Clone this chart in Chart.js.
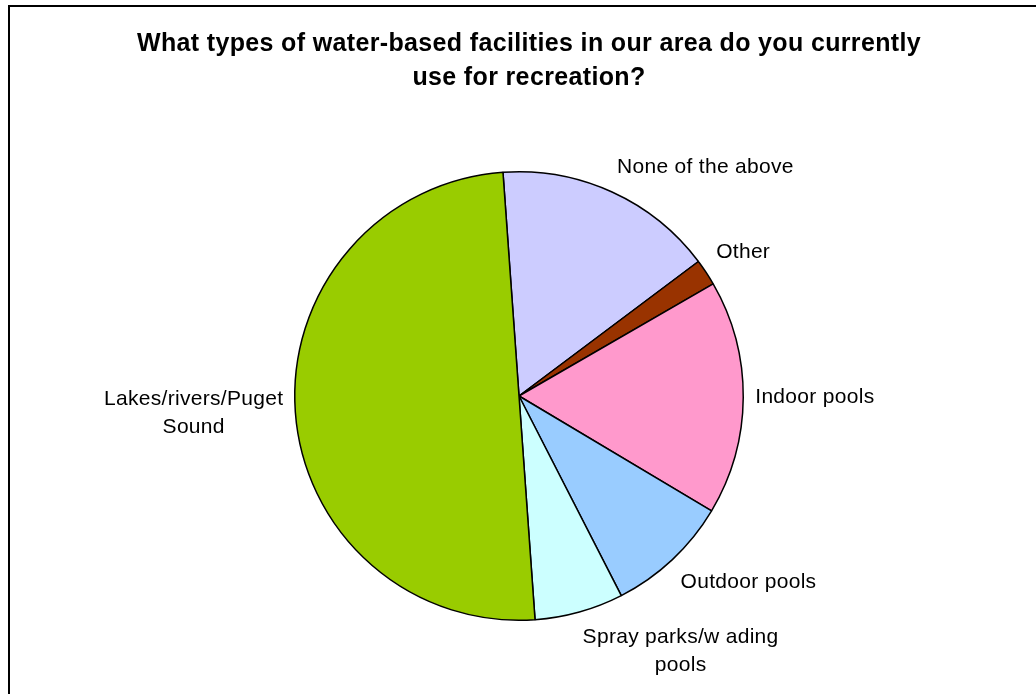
<!DOCTYPE html>
<html>
<head>
<meta charset="utf-8">
<script src="https://cdn.jsdelivr.net/npm/chart.js@4"></script>
<style>
    html, body { margin: 0; padding: 0; background: #fff; }
    #wrap { position: absolute; left: 0; top: 0; width: 1036px; height: 694px; }
    #frame { position: absolute; left: 8px; top: 5px; width: 1100px; height: 800px; border-left: 2px solid #000; border-top: 2px solid #000; }
</style>
</head>
<body>
<div id="frame"></div>
<div id="wrap"><canvas id="pieChart" width="1036" height="694"></canvas></div>
<script>
const categories = ['None of the above', 'Other', 'Indoor pools', 'Outdoor pools', 'Spray parks/w ading pools', 'Lakes/rivers/Puget Sound'];
// label text as it wraps in the picture
const labelLines = [['None of the above'], ['Other'], ['Indoor pools'], ['Outdoor pools'], ['Spray parks/w ading', 'pools'], ['Lakes/rivers/Puget', 'Sound']];
const shares = [15.9, 1.9, 16.9, 8.9, 6.4, 50.0];
const colors = ['#CCCCFF', '#993300', '#FF99CC', '#99CCFF', '#CCFFFF', '#99CC00'];
const titleLines = ['What types of water-based facilities in our area do you currently', 'use for recreation?'];

// title across the whole canvas, not just the plot box
const wideTitle = {
    id: 'wideTitle',
    afterDraw(chart) {
        const ctx = chart.ctx;
        ctx.save();
        ctx.font = 'bold 25px "Liberation Sans", Arial, sans-serif';
        ctx.letterSpacing = '0.35px';
        ctx.fillStyle = '#000';
        ctx.textAlign = 'center';
        ctx.textBaseline = 'middle';
        titleLines.forEach(function (t, k) {
            ctx.fillText(t, 529, 44 + k * 34);
        });
        ctx.restore();
    }
};

// labels outside the slices, no leader lines
const outsideLabels = {
    id: 'outsideLabels',
    afterDatasetsDraw(chart) {
        const ctx = chart.ctx;
        const meta = chart.getDatasetMeta(0);
        ctx.save();
        ctx.font = '21px "Liberation Sans", Arial, sans-serif';
        ctx.letterSpacing = '0.3px';
        ctx.fillStyle = '#000';
        ctx.textBaseline = 'middle';
        const lh = 28;
        meta.data.forEach(function (arc, i) {
            const p = arc.getProps(['x', 'y', 'startAngle', 'endAngle', 'outerRadius'], true);
            const mid = (p.startAngle + p.endAngle) / 2;
            const r = p.outerRadius + 12;
            const px = p.x + Math.cos(mid) * r;
            const py = p.y + Math.sin(mid) * r;
            const lines = labelLines[i];
            const w = Math.max.apply(null, lines.map(function (l) { return ctx.measureText(l).width; }));
            const h = lines.length * lh;
            let left;
            if (Math.cos(mid) > 0.1) left = px;
            else if (Math.cos(mid) < -0.1) left = px - w;
            else left = px - w / 2;
            let top;
            if (Math.sin(mid) < -0.3) top = py - h;
            else if (Math.sin(mid) > 0.3) top = py;
            else top = py - h / 2;
            lines.forEach(function (l, k) {
                ctx.textAlign = 'center';
                ctx.fillText(l, left + w / 2, top + lh / 2 + k * lh);
            });
        });
        ctx.restore();
    }
};

document.addEventListener('DOMContentLoaded', function () {
    const ctx = document.getElementById('pieChart').getContext('2d');
    const pieChart = new Chart(ctx, {
        type: 'pie',
        data: {
            labels: categories,
            datasets: [{
                data: shares,
                backgroundColor: colors,
                borderColor: '#000',
                borderWidth: 1.5
            }]
        },
        options: {
            responsive: false,
            animation: false,
            rotation: -4.1,
            layout: {
                padding: { left: 294, right: 292, top: 171, bottom: 73 }
            },
            plugins: {
                legend: { display: false },
                tooltip: { enabled: false },
                title: { display: false }
            }
        },
        plugins: [wideTitle, outsideLabels]
    });
});
</script>
</body>
</html>
